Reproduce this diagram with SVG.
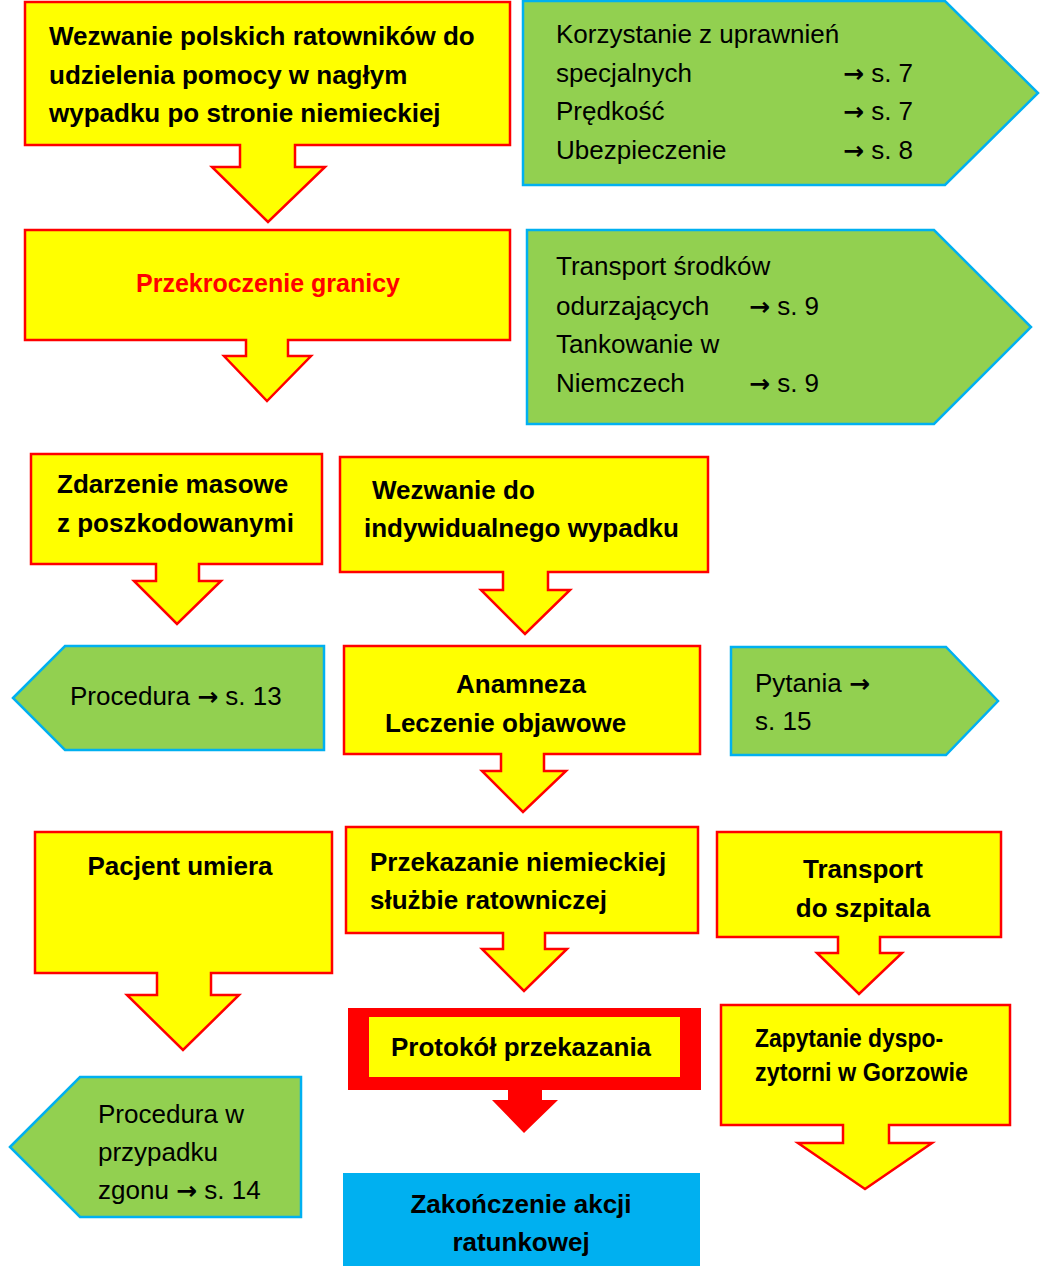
<svg xmlns="http://www.w3.org/2000/svg" width="1047" height="1266" viewBox="0 0 1047 1266">
<style>
.y{fill:#ffff00;stroke:#ff0000;stroke-width:2.5;stroke-linejoin:miter}
.g{fill:#92d050;stroke:#00b0f0;stroke-width:2.5}
.b{font-family:"Liberation Sans",Arial,sans-serif;font-weight:bold;font-size:26px;fill:#000}
.r{font-family:"Liberation Sans",Arial,sans-serif;font-size:26px;fill:#000}
.c{text-anchor:middle}
.a{font-family:"DejaVu Sans",sans-serif;font-weight:bold;font-size:25px}
</style>
<rect width="1047" height="1266" fill="#fff"/>
<g id="n1">
<path class="y" d="M25,2H510V145H295V167H325L268,222L212,167H240V145H25Z"/>
<text class="b" x="49" y="45">Wezwanie polskich ratowników do</text>
<text class="b" x="49" y="84">udzielenia pomocy w nagłym</text>
<text class="b" x="49" y="122">wypadku po stronie niemieckiej</text>
</g>
<g id="g1">
<path class="g" d="M523,1H945L1038,93L945,185H523Z"/>
<text class="r" x="556" y="43">Korzystanie z uprawnień</text>
<text class="r" x="556" y="82">specjalnych</text><text class="r" x="843" y="82"><tspan class="a">→</tspan> s. 7</text>
<text class="r" x="556" y="120">Prędkość</text><text class="r" x="843" y="120"><tspan class="a">→</tspan> s. 7</text>
<text class="r" x="556" y="159">Ubezpieczenie</text><text class="r" x="843" y="159"><tspan class="a">→</tspan> s. 8</text>
</g>
<g id="n2">
<path class="y" d="M25,230H510V340H288V356H311L267,401L224,356H246V340H25Z"/>
<text class="b c" x="268" y="292" style="fill:#ff0000;font-size:25px">Przekroczenie granicy</text>
</g>
<g id="g2">
<path class="g" d="M527,230H934L1031,327L934,424H527Z"/>
<text class="r" x="556" y="275">Transport środków</text>
<text class="r" x="556" y="315">odurzających</text><text class="r" x="749" y="315"><tspan class="a">→</tspan> s. 9</text>
<text class="r" x="556" y="353">Tankowanie w</text>
<text class="r" x="556" y="392">Niemczech</text><text class="r" x="749" y="392"><tspan class="a">→</tspan> s. 9</text>
</g>
<g id="n3">
<path class="y" d="M31,454H322V564H199V581H221L177,624L134,581H156V564H31Z"/>
<text class="b" x="57" y="493">Zdarzenie masowe</text>
<text class="b" x="57" y="532">z poszkodowanymi</text>
</g>
<g id="n4">
<path class="y" d="M340,457H708V572H548V590H570L525,634L481,590H503V572H340Z"/>
<text class="b" x="372" y="499">Wezwanie do</text>
<text class="b" x="364" y="537">indywidualnego wypadku</text>
</g>
<g id="g3">
<path class="g" d="M13,698L65,646H324V750H65Z"/>
<text class="r" x="70" y="705">Procedura <tspan class="a">→</tspan> s. 13</text>
</g>
<g id="n5">
<path class="y" d="M344,646H700V754H544V771H566L523,812L482,771H501V754H344Z"/>
<text class="b" x="456" y="693">Anamneza</text>
<text class="b" x="385" y="732">Leczenie objawowe</text>
</g>
<g id="g4">
<path class="g" d="M731,647H946L998,701L946,755H731Z"/>
<text class="r" x="755" y="692">Pytania <tspan class="a">→</tspan></text>
<text class="r" x="755" y="730">s. 15</text>
</g>
<g id="n6">
<path class="y" d="M35,832H332V973H211V995H239L183,1050L127,995H157V973H35Z"/>
<text class="b c" x="180" y="875">Pacjent umiera</text>
</g>
<g id="n7">
<path class="y" d="M346,827H698V933H545V949H567L524,991L482,949H503V933H346Z"/>
<text class="b" x="370" y="871">Przekazanie niemieckiej</text>
<text class="b" x="370" y="909">służbie ratowniczej</text>
</g>
<g id="n8">
<path class="y" d="M717,832H1001V937H880V953H902L859,994L817,953H838V937H717Z"/>
<text class="b c" x="863" y="878">Transport</text>
<text class="b c" x="863" y="917">do szpitala</text>
</g>
<g id="n9">
<path d="M348,1008H701V1090H542V1100H558L524,1133L492,1100H508V1090H348Z" fill="#ff0000"/>
<rect x="369" y="1017" width="311" height="60" fill="#ffff00"/>
<text class="b" x="391" y="1056">Protokół przekazania</text>
</g>
<g id="n10">
<path class="y" d="M721,1005H1010V1125H889V1143H932L865,1189L798,1143H843V1125H721Z"/>
<text class="b" x="755" y="1047" textLength="188" lengthAdjust="spacingAndGlyphs">Zapytanie dyspo-</text>
<text class="b" x="755" y="1081" textLength="213" lengthAdjust="spacingAndGlyphs">zytorni w Gorzowie</text>
</g>
<g id="g5">
<path class="g" d="M10,1147L80,1077H301V1217H80Z"/>
<text class="r" x="98" y="1123">Procedura w</text>
<text class="r" x="98" y="1161">przypadku</text>
<text class="r" x="98" y="1199">zgonu <tspan class="a">→</tspan> s. 14</text>
</g>
<g id="n11">
<rect x="343" y="1173" width="357" height="93" fill="#00b0f0"/>
<text class="b c" x="521" y="1213">Zakończenie akcji</text>
<text class="b c" x="521" y="1251">ratunkowej</text>
</g>
<g id="connectors"></g>
</svg>
